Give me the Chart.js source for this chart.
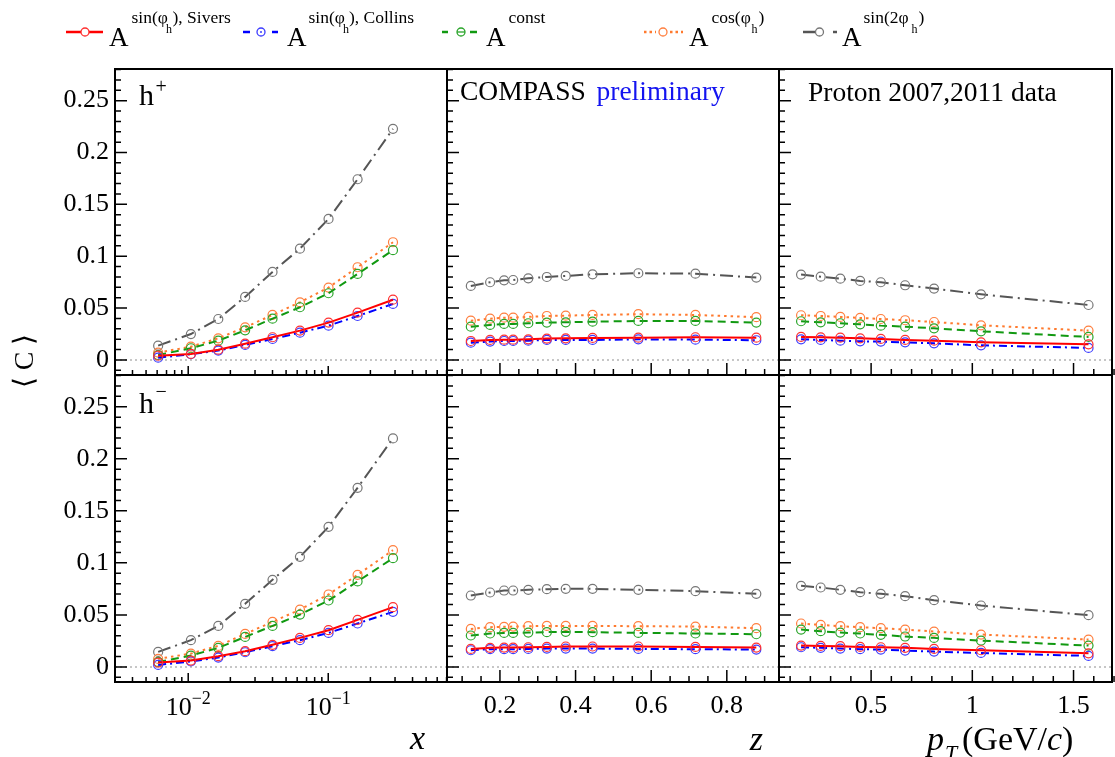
<!DOCTYPE html>
<html>
<head>
<meta charset="utf-8">
<script src="https://cdn.jsdelivr.net/npm/chart.js@4"></script>
<style>
  body { margin: 0; background: #fff; width: 1115px; height: 757px; position: relative; overflow: hidden; }
  canvas { position: absolute; }
  svg { position: absolute; left: 0; top: 0; }
</style>
</head>
<body>
<canvas id="hpX"></canvas>
<canvas id="hpZ"></canvas>
<canvas id="hpPt"></canvas>
<canvas id="hmX"></canvas>
<canvas id="hmZ"></canvas>
<canvas id="hmPt"></canvas>

<svg width="1115" height="757" font-family="'Liberation Serif', serif">
  <!-- legend samples -->
  <line x1="66" y1="32" x2="103" y2="32" stroke="#ff0000" stroke-width="2.5"/>
  <circle cx="85" cy="32" r="4" fill="#fff" stroke="#ff3030" stroke-width="1.3"/>
  <line x1="243" y1="32" x2="250" y2="32" stroke="#0000ff" stroke-width="2.5"/>
  <line x1="272" y1="32" x2="278" y2="32" stroke="#0000ff" stroke-width="2.5"/>
  <circle cx="261" cy="32" r="4" fill="none" stroke="#3c3cff" stroke-width="1.3"/>
  <circle cx="261" cy="32" r="1" fill="#3c3cff"/>
  <line x1="442" y1="32" x2="448" y2="32" stroke="#119911" stroke-width="2.5"/>
  <line x1="470" y1="32" x2="477" y2="32" stroke="#119911" stroke-width="2.5"/>
  <circle cx="461" cy="32" r="4" fill="none" stroke="#2aa52a" stroke-width="1.3"/>
  <line x1="457" y1="32" x2="465" y2="32" stroke="#2aa52a" stroke-width="1.3"/>
  <line x1="644" y1="32" x2="656" y2="32" stroke="#ff7a2e" stroke-width="2.5" stroke-dasharray="2.5,3"/>
  <line x1="670" y1="32" x2="683" y2="32" stroke="#ff7a2e" stroke-width="2.5" stroke-dasharray="2.5,3"/>
  <circle cx="663" cy="32" r="4" fill="none" stroke="#ff7f3f" stroke-width="1.3"/>
  <line x1="803" y1="32" x2="815" y2="32" stroke="#555" stroke-width="2.5"/>
  <line x1="833" y1="32" x2="837" y2="32" stroke="#555" stroke-width="2.5"/>
  <circle cx="819.5" cy="32" r="4" fill="none" stroke="#777" stroke-width="1.3"/>

  <!-- legend text -->
  <text font-size="27"><tspan x="109" y="46">A</tspan></text>
  <text font-size="17.5"><tspan x="131.5" y="23">sin(φ</tspan><tspan x="166" y="33" font-size="12">h</tspan><tspan x="172.5" y="23">), Sivers</tspan></text>
  <text font-size="27"><tspan x="287" y="46">A</tspan></text>
  <text font-size="17.5"><tspan x="308.5" y="23">sin(φ</tspan><tspan x="343" y="33" font-size="12">h</tspan><tspan x="349" y="23">), Collins</tspan></text>
  <text font-size="27"><tspan x="486" y="46">A</tspan></text>
  <text font-size="17.5"><tspan x="508.5" y="23">const</tspan></text>
  <text font-size="27"><tspan x="689" y="46">A</tspan></text>
  <text font-size="17.5"><tspan x="711.5" y="23">cos(φ</tspan><tspan x="751.5" y="33" font-size="12">h</tspan><tspan x="758.5" y="23">)</tspan></text>
  <text font-size="27"><tspan x="842" y="46">A</tspan></text>
  <text font-size="17.5"><tspan x="863.5" y="23">sin(2φ</tspan><tspan x="911.5" y="33" font-size="12">h</tspan><tspan x="918.5" y="23">)</tspan></text>

  <!-- panel labels -->
  <text font-size="30"><tspan x="139" y="105">h</tspan><tspan x="155.5" y="93" font-size="20">+</tspan></text>
  <text font-size="30"><tspan x="139" y="412.5">h</tspan><tspan x="155.5" y="398" font-size="20">−</tspan></text>
  <text font-size="27.5"><tspan x="460" y="100">COMPASS</tspan><tspan x="596.5" y="100" fill="#1414f0">preliminary</tspan></text>
  <text font-size="27.5" x="808" y="100.5">Proton 2007,2011 data</text>

  <!-- axis titles -->
  <text transform="translate(33,361) rotate(-90)" text-anchor="middle" font-size="28">⟨ C ⟩</text>
  <text x="425" y="749" text-anchor="end" font-size="34" font-style="italic">x</text>
  <text x="763" y="750" text-anchor="end" font-size="34" font-style="italic">z</text>
  <text font-size="34"><tspan x="927" y="750" font-style="italic">p</tspan><tspan x="945" y="760" font-size="22" font-style="italic">T</tspan><tspan x="962" y="750">(GeV/</tspan><tspan font-style="italic">c</tspan><tspan>)</tspan></text>
</svg>

<script>
// bin centres
const xBins = [0.0061, 0.01045, 0.0164, 0.0255, 0.040, 0.0628, 0.1005, 0.162, 0.29];
const zBins = [0.123, 0.174, 0.211, 0.235, 0.275, 0.324, 0.374, 0.445, 0.566, 0.717, 0.878];
const ptBins = [0.154, 0.251, 0.348, 0.446, 0.548, 0.668, 0.811, 1.043, 1.574];

// h+ vs x
const hpXSivers  = [0.0041, 0.0058, 0.0099, 0.0157, 0.0219, 0.0283, 0.0360, 0.0456, 0.0581];
const hpXCollins = [0.0022, 0.0055, 0.0090, 0.0145, 0.0202, 0.0263, 0.0331, 0.0424, 0.0540];
const hpXConst   = [0.0048, 0.0113, 0.0186, 0.0286, 0.0398, 0.0508, 0.0643, 0.0829, 0.1058];
const hpXCos     = [0.0071, 0.0128, 0.0209, 0.0315, 0.0434, 0.0556, 0.0698, 0.0894, 0.1135];
const hpXSin2    = [0.0138, 0.0250, 0.0395, 0.0608, 0.0849, 0.1073, 0.1360, 0.1742, 0.2228];

// h- vs x
const hmXSivers  = [0.0042, 0.0061, 0.0103, 0.0151, 0.0212, 0.0279, 0.0353, 0.0452, 0.0574];
const hmXCollins = [0.0019, 0.0052, 0.0090, 0.0141, 0.0199, 0.0257, 0.0327, 0.0417, 0.0529];
const hmXConst   = [0.0048, 0.0109, 0.0183, 0.0288, 0.0394, 0.0503, 0.0638, 0.0821, 0.1045];
const hmXCos     = [0.0077, 0.0128, 0.0202, 0.0317, 0.0433, 0.0551, 0.0696, 0.0885, 0.1122];
const hmXSin2    = [0.0144, 0.0257, 0.0394, 0.0606, 0.0837, 0.1058, 0.1346, 0.1721, 0.2196];

// h+ vs z
const hpZSivers  = [0.0183, 0.0193, 0.0196, 0.0196, 0.0199, 0.0206, 0.0209, 0.0212, 0.0215, 0.0219, 0.0215];
const hpZCollins = [0.0167, 0.0177, 0.0183, 0.0183, 0.0186, 0.0193, 0.0193, 0.0193, 0.0199, 0.0196, 0.0190];
const hpZConst   = [0.0321, 0.0338, 0.0347, 0.0347, 0.0354, 0.0360, 0.0363, 0.0369, 0.0376, 0.0376, 0.0360];
const hpZCos     = [0.0379, 0.0398, 0.0408, 0.0408, 0.0415, 0.0424, 0.0427, 0.0434, 0.0441, 0.0434, 0.0412];
const hpZSin2    = [0.0714, 0.0749, 0.0768, 0.0771, 0.0787, 0.0800, 0.0810, 0.0826, 0.0836, 0.0832, 0.0794];

// h- vs z
const hmZSivers  = [0.0173, 0.0183, 0.0186, 0.0186, 0.0189, 0.0192, 0.0196, 0.0196, 0.0196, 0.0192, 0.0186];
const hmZCollins = [0.0160, 0.0170, 0.0170, 0.0170, 0.0173, 0.0176, 0.0176, 0.0176, 0.0173, 0.0170, 0.0167];
const hmZConst   = [0.0302, 0.0321, 0.0327, 0.0327, 0.0330, 0.0334, 0.0337, 0.0334, 0.0327, 0.0321, 0.0314];
const hmZCos     = [0.0365, 0.0382, 0.0385, 0.0388, 0.0391, 0.0394, 0.0394, 0.0394, 0.0391, 0.0388, 0.0372];
const hmZSin2    = [0.0686, 0.0715, 0.0734, 0.0734, 0.0741, 0.0747, 0.0750, 0.0750, 0.0741, 0.0728, 0.0702];

// h+ vs pT
const hpPtSivers  = [0.0222, 0.0218, 0.0215, 0.0209, 0.0203, 0.0193, 0.0186, 0.0170, 0.0151];
const hpPtCollins = [0.0199, 0.0193, 0.0186, 0.0180, 0.0177, 0.0170, 0.0160, 0.0141, 0.0116];
const hpPtConst   = [0.0373, 0.0363, 0.0354, 0.0344, 0.0331, 0.0321, 0.0305, 0.0276, 0.0222];
const hpPtCos     = [0.0431, 0.0424, 0.0415, 0.0405, 0.0395, 0.0383, 0.0366, 0.0334, 0.0283];
const hpPtSin2    = [0.0823, 0.0803, 0.0784, 0.0762, 0.0749, 0.0720, 0.0688, 0.0633, 0.0530];

// h- vs pT
const hmPtSivers  = [0.0205, 0.0202, 0.0199, 0.0192, 0.0189, 0.0183, 0.0173, 0.0160, 0.0131];
const hmPtCollins = [0.0189, 0.0183, 0.0176, 0.0170, 0.0167, 0.0157, 0.0147, 0.0134, 0.0106];
const hmPtConst   = [0.0359, 0.0343, 0.0330, 0.0321, 0.0308, 0.0292, 0.0279, 0.0253, 0.0205];
const hmPtCos     = [0.0417, 0.0404, 0.0391, 0.0382, 0.0372, 0.0359, 0.0340, 0.0311, 0.0263];
const hmPtSin2    = [0.0779, 0.0763, 0.0741, 0.0718, 0.0702, 0.0680, 0.0641, 0.0590, 0.0497];

// labelled ticks
const yMajor = [0, 0.05, 0.1, 0.15, 0.2, 0.25];
const xDecades = [0.01, 0.1];
const zMajor = [0.2, 0.4, 0.6, 0.8];
const ptMajor = [0.5, 1, 1.5];

// line styles, in drawing priority (first one ends up on top)
const styles = [
    { name: 'Sivers',  line: '#ff0000', mark: '#ff3030', dash: [] },
    { name: 'Collins', line: '#0000ff', mark: '#3c3cff', dash: [8, 4, 2, 4] },
    { name: 'const',   line: '#119911', mark: '#2aa52a', dash: [8, 5] },
    { name: 'cos',     line: '#ff7a2e', mark: '#ff7f3f', dash: [2.5, 4] },
    { name: 'sin2',    line: '#555555', mark: '#777777', dash: [13, 5, 2, 5] }
];

const SERIF = "'Liberation Serif', serif";
const Y_AXIS_W = 75, X_AXIS_H = 75, PAD = 3;

function stepTicks(from, to, step) {
    const out = [];
    for (let i = Math.round(from / step); i <= Math.round(to / step); i++) out.push(+(i * step).toFixed(6));
    return out;
}
function logTicks(min, max) {
    const out = [];
    [0.001, 0.01, 0.1].forEach(d => {
        for (let m = 1; m <= 9; m++) {
            const v = +(m * d).toPrecision(3);
            if (v >= min && v <= max) out.push(v);
        }
    });
    return out;
}
const isIn = (v, list) => list.some(m => Math.abs(m - v) < 1e-9);

// frame, inward ticks, zero line and the log decade labels
const frameBox = {
    id: 'frameBox',
    beforeDatasetsDraw(chart) {
        const { ctx, chartArea: a, scales: { y } } = chart;
        const y0 = y.getPixelForValue(0);
        ctx.save();
        ctx.strokeStyle = '#b4b4b4';
        ctx.lineWidth = 1.5;
        ctx.setLineDash([2, 3]);
        ctx.beginPath();
        ctx.moveTo(a.left, y0);
        ctx.lineTo(a.right, y0);
        ctx.stroke();
        ctx.restore();
    },
    afterDraw(chart) {
        const { ctx, chartArea: a, scales: { x, y } } = chart;
        const cfg = chart.options.plugins.frameBox;
        ctx.save();
        ctx.strokeStyle = '#000';
        ctx.lineWidth = 1.5;
        ctx.beginPath();
        y.ticks.forEach(t => {
            const py = y.getPixelForValue(t.value);
            ctx.moveTo(a.left, py);
            ctx.lineTo(a.left + (isIn(t.value, yMajor) ? 12 : 6), py);
        });
        x.ticks.forEach(t => {
            const px = x.getPixelForValue(t.value);
            const big = isIn(t.value, cfg.major);
            const len = cfg.log ? (big ? 9 : 5) : (big ? 12 : 6);
            ctx.moveTo(px, a.bottom);
            ctx.lineTo(px, a.bottom - len);
        });
        ctx.stroke();
        ctx.lineWidth = 2;
        ctx.strokeRect(a.left, a.top, a.right - a.left, a.bottom - a.top);

        if (cfg.log && cfg.showLabels) {
            ctx.fillStyle = '#000';
            ctx.textBaseline = 'alphabetic';
            xDecades.forEach(d => {
                const px = x.getPixelForValue(d);
                const exp = '\u2212' + Math.round(-Math.log10(d));
                ctx.font = '26px ' + SERIF;
                const wBase = ctx.measureText('10').width;
                ctx.font = '18px ' + SERIF;
                const wExp = ctx.measureText(exp).width;
                const start = px - (wBase + wExp) / 2;
                ctx.font = '26px ' + SERIF;
                ctx.fillText('10', start, a.bottom + 33);
                ctx.font = '18px ' + SERIF;
                ctx.fillText(exp, start + wBase, a.bottom + 22);
            });
        }
        ctx.restore();
    }
};

const columns = [
    { l: 115, r: 447, log: true, min: 0.003, max: 0.705, bins: xBins, major: xDecades },
    { l: 447, r: 779, log: false, min: 0.06, max: 0.938, bins: zBins, major: zMajor, step: 0.05 },
    { l: 779, r: 1112, log: false, min: 0.045, max: 1.69, bins: ptBins, major: ptMajor, step: 0.1 }
];
const rows = [{ t: 69, b: 375 }, { t: 375, b: 682 }];

function makePanel(id, col, row, values) {
    const c = columns[col], r = rows[row];
    const showY = col === 0, showX = row === 1;
    const padL = showY ? Y_AXIS_W : PAD, padB = showX ? X_AXIS_H : PAD;
    const canvas = document.getElementById(id);
    canvas.width = (c.r - c.l) + padL + PAD;
    canvas.height = (r.b - r.t) + PAD + padB;
    canvas.style.left = (c.l - padL) + 'px';
    canvas.style.top = (r.t - PAD) + 'px';

    const xTicks = c.log ? logTicks(c.min, c.max) : stepTicks(0.1, c.max, c.step);

    new Chart(canvas, {
        type: 'line',
        data: {
            datasets: styles.map((s, i) => ({
                label: s.name,
                data: c.bins.map((b, j) => ({ x: b, y: values[i][j] })),
                borderColor: s.line,
                borderWidth: 2,
                borderDash: s.dash,
                pointStyle: 'circle',
                pointRadius: 4.5,
                pointBorderWidth: 1.2,
                pointBorderColor: s.mark,
                pointBackgroundColor: 'rgba(0,0,0,0)',
                fill: false,
                tension: 0
            }))
        },
        options: {
            responsive: false,
            animation: false,
            events: [],
            layout: {
                autoPadding: false,
                padding: { left: showY ? 0 : PAD, right: PAD, top: PAD, bottom: showX ? 0 : PAD }
            },
            plugins: {
                legend: { display: false },
                tooltip: { enabled: false },
                frameBox: { log: c.log, major: c.major, showLabels: showX }
            },
            scales: {
                x: {
                    type: c.log ? 'logarithmic' : 'linear',
                    min: c.min,
                    max: c.max,
                    display: showX,
                    grid: { display: false, drawTicks: false },
                    border: { display: false },
                    afterBuildTicks: s => { s.ticks = xTicks.map(v => ({ value: v })); },
                    afterFit: s => { s.height = showX ? X_AXIS_H : 0; s.paddingLeft = 0; s.paddingRight = 0; },
                    ticks: {
                        autoSkip: false,
                        maxRotation: 0,
                        padding: 9,
                        color: '#000',
                        font: { family: SERIF, size: 26 },
                        callback: v => (!c.log && isIn(v, c.major)) ? String(+v.toFixed(2)) : ''
                    }
                },
                y: {
                    min: -0.0145,
                    max: 0.2805,
                    display: showY,
                    grid: { display: false, drawTicks: false },
                    border: { display: false },
                    afterBuildTicks: s => { s.ticks = stepTicks(-0.01, 0.28, 0.01).map(v => ({ value: v })); },
                    afterFit: s => { s.width = showY ? Y_AXIS_W : 0; s.paddingTop = 0; s.paddingBottom = 0; },
                    ticks: {
                        autoSkip: false,
                        padding: 6,
                        color: '#000',
                        font: { family: SERIF, size: 26 },
                        callback: v => isIn(v, yMajor) ? String(+v.toFixed(2)) : ''
                    }
                }
            }
        },
        plugins: [frameBox]
    });
}

makePanel('hpX', 0, 0, [hpXSivers, hpXCollins, hpXConst, hpXCos, hpXSin2]);
makePanel('hpZ', 1, 0, [hpZSivers, hpZCollins, hpZConst, hpZCos, hpZSin2]);
makePanel('hpPt', 2, 0, [hpPtSivers, hpPtCollins, hpPtConst, hpPtCos, hpPtSin2]);
makePanel('hmX', 0, 1, [hmXSivers, hmXCollins, hmXConst, hmXCos, hmXSin2]);
makePanel('hmZ', 1, 1, [hmZSivers, hmZCollins, hmZConst, hmZCos, hmZSin2]);
makePanel('hmPt', 2, 1, [hmPtSivers, hmPtCollins, hmPtConst, hmPtCos, hmPtSin2]);
</script>
</body>
</html>
